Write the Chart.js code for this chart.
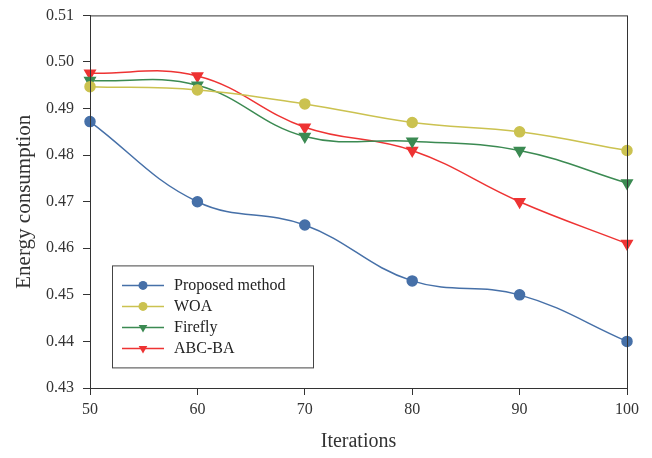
<!DOCTYPE html>
<html>
<head>
<meta charset="utf-8">
<script src="https://cdn.jsdelivr.net/npm/chart.js@4"></script>
<style>
  body { margin: 0; background: #fff; }
  #wrap { width: 652px; height: 458px; }
</style>
</head>
<body>
<div id="wrap"><canvas id="chart" width="652" height="458"></canvas></div>
<script>
const iterations = [50, 60, 70, 80, 90, 100]
const proposed = [0.4872, 0.470, 0.465, 0.453, 0.450, 0.440]
const woa = [0.4947, 0.494, 0.491, 0.487, 0.485, 0.481]
const firefly = [0.496, 0.495, 0.484, 0.483, 0.481, 0.474]
const abcba = [0.4976, 0.497, 0.486, 0.481, 0.470, 0.461]

const font = 'Liberation Serif'
const pts = arr => arr.map((v, i) => ({ x: iterations[i], y: v }))

const series = (label, data, color, style) => ({
  label,
  data: pts(data),
  borderColor: color,
  backgroundColor: color,
  borderWidth: 1.5,
  pointStyle: style,
  pointRotation: style === 'triangle' ? 180 : 0,
  pointRadius: style === 'triangle' ? 6 : 5,
  tension: 0.4,
  clip: false
})

// box around plot + legend inside the plot
const frame = {
  id: 'frame',
  afterDatasetsDraw(c) {
    const { ctx, chartArea: a } = c
    ctx.save()
    ctx.strokeStyle = '#333'
    ctx.lineWidth = 1
    ctx.strokeRect(a.left + 0.5, a.top + 0.5, a.right - a.left, a.bottom - a.top)

    const bx = a.left + 22, by = a.top + 250, bw = 201, bh = 102
    ctx.fillStyle = '#fff'
    ctx.fillRect(bx, by, bw, bh)
    ctx.strokeStyle = '#444'
    ctx.strokeRect(bx + 0.5, by + 0.5, bw, bh)
    ctx.font = '16px "' + font + '"'
    ctx.textBaseline = 'middle'
    c.data.datasets.forEach((ds, i) => {
      const y = by + 20 + i * 21
      ctx.strokeStyle = ds.borderColor
      ctx.lineWidth = 1.5
      ctx.beginPath()
      ctx.moveTo(bx + 10, y)
      ctx.lineTo(bx + 52, y)
      ctx.stroke()
      ctx.fillStyle = ds.borderColor
      Chart.helpers.drawPoint(ctx, {
        pointStyle: ds.pointStyle,
        rotation: ds.pointRotation,
        radius: ds.pointStyle === 'triangle' ? 5 : 4.5,
        borderWidth: 0
      }, bx + 31, y)
      ctx.fillStyle = '#222'
      ctx.fillText(ds.label, bx + 62, y)
    })
    ctx.restore()
  }
}

new Chart(document.querySelector('#chart').getContext('2d'), {
  type: 'line',
  data: {
    datasets: [
      series('Proposed method', proposed, '#4670a8', 'circle'),
      series('WOA', woa, '#cbc250', 'circle'),
      series('Firefly', firefly, '#3b8a52', 'triangle'),
      series('ABC-BA', abcba, '#ee3333', 'triangle')
    ]
  },
  options: {
    responsive: false,
    animation: false,
    layout: { padding: { top: 15, right: 25, left: 8, bottom: 0 } },
    plugins: { legend: { display: false }, tooltip: { enabled: false } },
    scales: {
      x: {
        type: 'linear',
        min: 50,
        max: 100,
        afterFit(s) { s.height = 70 },
        grid: { drawOnChartArea: false, tickLength: 7, color: '#333' },
        border: { color: '#333' },
        ticks: { stepSize: 10, color: '#333', padding: 5, font: { family: font, size: 16 } },
        title: { display: true, text: 'Iterations', color: '#333', padding: { top: 9 }, font: { family: font, size: 20 } }
      },
      y: {
        min: 0.43,
        max: 0.51,
        afterFit(s) { s.width = 82 },
        grid: { drawOnChartArea: false, tickLength: 7, color: '#333' },
        border: { color: '#333' },
        ticks: {
          stepSize: 0.01,
          color: '#333',
          padding: 9,
          font: { family: font, size: 16, lineHeight: 0.8 },
          callback: v => v.toFixed(2)
        },
        title: { display: true, text: 'Energy consumption', color: '#333', padding: { bottom: 4 }, font: { family: font, size: 21 } }
      }
    }
  },
  plugins: [frame]
})
</script>
</body>
</html>
